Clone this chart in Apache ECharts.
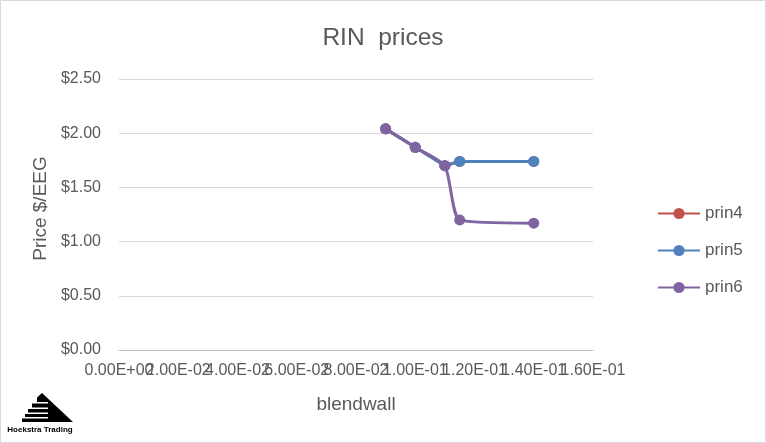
<!DOCTYPE html>
<html>
<head>
<meta charset="utf-8">
<script src="https://cdn.jsdelivr.net/npm/echarts@6/dist/echarts.min.js"></script>
<style>
html,body{margin:0;padding:0;background:#fff;}
#chart{width:766px;height:443px;}
</style>
</head>
<body>
<div id="chart"></div>
<script>
// ---- data ----
const blendwall = [0.09, 0.10, 0.11, 0.115, 0.14];
const prin4 = [2.04, 1.87, 1.70, 1.74, 1.74];
const prin5 = [2.04, 1.87, 1.70, 1.74, 1.74];
const prin6 = [2.04, 1.87, 1.70, 1.20, 1.17];
const seriesNames = ['prin4', 'prin5', 'prin6'];
const titleText = 'RIN  prices';
const xName = 'blendwall';
const yName = 'Price $/EEG';
const xMin = 0, xMax = 0.16, xStep = 0.02;
const yMin = 0, yMax = 2.5, yStep = 0.5;

function pairs(xs, ys) { return xs.map((x, i) => [x, ys[i]]); }

function sci(v) {
  if (Math.abs(v) < 1e-12) return '0.00E+00';
  let e = Math.floor(Math.log10(Math.abs(v)) + 1e-9);
  let m = v / Math.pow(10, e);
  if (Math.abs(m) >= 9.995) { m /= 10; e += 1; }
  const sign = e < 0 ? '-' : '+';
  const ee = String(Math.abs(e)).padStart(2, '0');
  return m.toFixed(2) + 'E' + sign + ee;
}
// two overlaid axes so that overlapping labels are all drawn (like the original)
function tickIndex(v) { return Math.round((v - xMin) / xStep); }
const fmtEven = v => tickIndex(v) % 2 === 0 ? sci(v) : '';
const fmtOdd = v => tickIndex(v) % 2 === 1 ? sci(v) : '';

const colors = ['#c0504d', '#4f81bd', '#8064a2'];
const txt = '#595959';
const font = 'Liberation Sans';

function mkSeries(name, ys, color, smooth) {
  return {
    name: name, type: 'line', data: pairs(blendwall, ys),
    xAxisIndex: 0, yAxisIndex: 0,
    smooth: smooth,
    symbol: 'circle', symbolSize: 11,
    lineStyle: { color: color, width: 3 },
    itemStyle: { color: color },
    emphasis: { disabled: true }
  };
}

// logo
const logoChildren = [];
logoChildren.push({ type: 'polygon', shape: { points: [[42,393],[73,422],[48,422],[48,402],[37,402],[37,397.5]] }, style: { fill: '#000' } });
const bars = [[403.5,407.5,32],[409,412.5,28],[414,417,25],[418.5,422,22]];
bars.forEach(b => logoChildren.push({ type: 'rect', shape: { x: b[2], y: b[0], width: 48.5 - b[2], height: b[1] - b[0] }, style: { fill: '#000' } }));
logoChildren.push({ type: 'text', style: { text: 'Hoekstra Trading', x: 40, y: 430, align: 'center', verticalAlign: 'middle', font: 'bold 8px Liberation Sans', fill: '#000' } });

const labelCommon = { fontFamily: font, fontSize: 16, color: txt, margin: 13,
  hideOverlap: false, showMinLabel: true, showMaxLabel: true };

const chart = echarts.init(document.getElementById('chart'));
chart.setOption({
  animation: false,
  backgroundColor: '#fff',
  color: colors,
  title: {
    text: titleText, left: 'center', top: 21,
    textStyle: { fontFamily: font, fontSize: 24.5, fontWeight: 'normal', color: txt }
  },
  legend: {
    orient: 'vertical', left: 652, top: 200,
    itemWidth: 42, itemHeight: 14, itemGap: 20,
    data: seriesNames,
    textStyle: { fontFamily: font, fontSize: 17, color: txt }
  },
  grid: { left: 119, right: 173, top: 79, bottom: 93, containLabel: false },
  xAxis: [{
    type: 'value', min: xMin, max: xMax, interval: xStep, position: 'bottom',
    name: xName, nameLocation: 'middle', nameGap: 45,
    nameTextStyle: { fontFamily: font, fontSize: 19, color: txt },
    axisLine: { show: true, onZero: false, lineStyle: { color: '#bfbfbf', width: 1 } },
    axisTick: { show: false },
    splitLine: { show: false },
    axisLabel: Object.assign({ formatter: fmtEven }, labelCommon)
  }, {
    type: 'value', min: xMin, max: xMax, interval: xStep, position: 'bottom', offset: 0,
    axisLine: { show: false, onZero: false },
    axisTick: { show: false },
    splitLine: { show: false },
    axisLabel: Object.assign({ formatter: fmtOdd }, labelCommon)
  }],
  yAxis: {
    type: 'value', min: yMin, max: yMax, interval: yStep,
    name: yName, nameLocation: 'middle', nameGap: 61, nameRotate: 90,
    nameTextStyle: { fontFamily: font, fontSize: 19, color: txt, padding: [0, 0, 0, 12] },
    axisLine: { show: false },
    axisTick: { show: false },
    splitLine: { lineStyle: { color: '#d9d9d9', width: 1 } },
    axisLabel: { formatter: v => '$' + v.toFixed(2), fontFamily: font, fontSize: 16, color: txt, margin: 18 }
  },
  graphic: [
    { type: 'rect', shape: { x: 0.5, y: 0.5, width: 765, height: 442 }, style: { fill: 'none', stroke: '#d9d9d9', lineWidth: 1 }, silent: true },
    { type: 'group', children: logoChildren, silent: true }
  ],
  series: [
    mkSeries(seriesNames[0], prin4, colors[0], false),
    mkSeries(seriesNames[1], prin5, colors[1], false),
    mkSeries(seriesNames[2], prin6, colors[2], 0.2)
  ]
});
</script>
</body>
</html>
